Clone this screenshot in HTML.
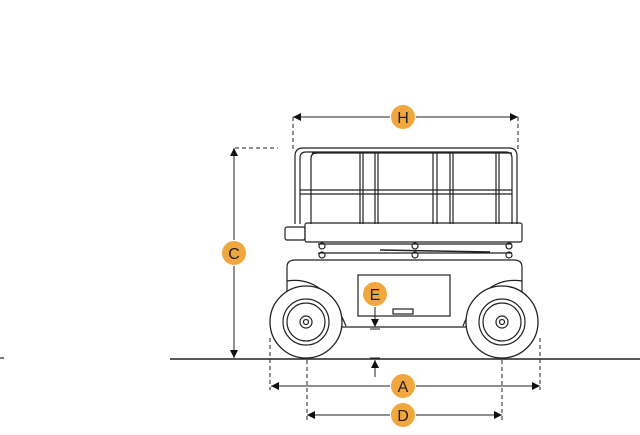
<!DOCTYPE html>
<html><head><style>
html,body{margin:0;padding:0;background:#fff;width:640px;height:435px;overflow:hidden}
</style></head><body>
<svg width="640" height="435" viewBox="0 0 640 435" xmlns="http://www.w3.org/2000/svg">
<defs>
<marker id="ar" viewBox="0 0 10 10" refX="10" refY="5" markerWidth="10" markerHeight="8" orient="auto-start-reverse" markerUnits="userSpaceOnUse"><path d="M0,0 L10,5 L0,10 z" fill="#111"/></marker>
</defs>
<g stroke="#222" fill="none" stroke-width="1.2">
<line x1="170" y1="359" x2="640" y2="359" stroke-width="1.4"/>
<line x1="0" y1="358" x2="4" y2="358"/>
<g stroke-dasharray="4,3" stroke-width="1">
<line x1="293" y1="117" x2="293" y2="150"/>
<line x1="518" y1="117" x2="518" y2="150"/>
<line x1="235" y1="148" x2="278" y2="148"/>
<line x1="270" y1="338" x2="270" y2="390"/>
<line x1="540" y1="338" x2="540" y2="390"/>
<line x1="307" y1="360" x2="307" y2="420"/>
<line x1="502" y1="360" x2="502" y2="420"/>
</g>
<g stroke-width="1">
<line x1="293" y1="117" x2="390" y2="117" marker-start="url(#ar)"/>
<line x1="416" y1="117" x2="518" y2="117" marker-end="url(#ar)"/>
<line x1="234" y1="148" x2="234" y2="240" marker-start="url(#ar)"/>
<line x1="234" y1="266" x2="234" y2="358" marker-end="url(#ar)"/>
<line x1="271" y1="386" x2="390" y2="386" marker-start="url(#ar)"/>
<line x1="416" y1="386" x2="540" y2="386" marker-end="url(#ar)"/>
<line x1="307" y1="415" x2="390" y2="415" marker-start="url(#ar)"/>
<line x1="416" y1="415" x2="502" y2="415" marker-end="url(#ar)"/>
<line x1="375" y1="307" x2="375" y2="327" marker-end="url(#ar)"/>
<line x1="375" y1="377" x2="375" y2="360" marker-end="url(#ar)"/>
<line x1="370" y1="329" x2="380" y2="329"/>
<line x1="370" y1="358" x2="380" y2="358"/>
</g>
<path d="M295,224 V156 Q295,148 303,148 H509 Q517,148 517,156 V224"/>
<path d="M300,224 V158 Q300,152 306,152 H506 Q512,152 512,158 V224"/>
<path d="M311,224 V158 Q311,153 317,153"/>
<line x1="312" y1="153" x2="512" y2="153"/>
<line x1="300" y1="190" x2="512" y2="190"/>
<line x1="300" y1="194" x2="512" y2="194"/>
<line x1="360" y1="153" x2="360" y2="224"/><line x1="363" y1="153" x2="363" y2="224"/>
<line x1="375" y1="153" x2="375" y2="224"/><line x1="378" y1="153" x2="378" y2="224"/>
<line x1="433" y1="153" x2="433" y2="224"/><line x1="437" y1="153" x2="437" y2="224"/>
<line x1="450" y1="153" x2="450" y2="224"/><line x1="453" y1="153" x2="453" y2="224"/>
<line x1="496" y1="153" x2="496" y2="224"/><line x1="499" y1="153" x2="499" y2="224"/>
<rect x="305" y="223" width="217" height="19" rx="2"/>
<rect x="285" y="227" width="20" height="13" rx="2"/>
<line x1="318" y1="244" x2="512" y2="244"/>
<line x1="318" y1="253" x2="512" y2="253"/>
<line x1="380" y1="250" x2="490" y2="252" stroke-width="1.5"/>
<circle cx="322" cy="246" r="3"/><circle cx="322" cy="255" r="3"/>
<circle cx="415" cy="246" r="3"/><circle cx="415" cy="255" r="3"/>
<circle cx="509" cy="246" r="3"/><circle cx="509" cy="255" r="3"/>
<path d="M287,325 V267 Q287,260 295,260 H514 Q522,260 522,267 V325"/>
<line x1="287" y1="327" x2="522" y2="327"/>
<rect x="358" y="275" width="92" height="41"/>
<rect x="393" y="309" width="20" height="5"/>
<path d="M287,281 Q325,275 346,326"/>
<path d="M522,281 Q484,275 463,326"/>
<g fill="#fff">
<circle cx="306" cy="322" r="36" stroke-width="1.3"/>
<circle cx="306" cy="322" r="23"/>
<circle cx="306" cy="322" r="19"/>
<circle cx="306" cy="322" r="6"/>
<circle cx="306" cy="322" r="2.5"/>
<circle cx="502" cy="322" r="36" stroke-width="1.3"/>
<circle cx="502" cy="322" r="23"/>
<circle cx="502" cy="322" r="19"/>
<circle cx="502" cy="322" r="6"/>
<circle cx="502" cy="322" r="2.5"/>
</g>
</g>
<g fill="#f2a63e" font-family="Liberation Sans, sans-serif" font-size="16" text-anchor="middle">
<circle cx="403" cy="117" r="12"/><circle cx="234" cy="253" r="12"/>
<circle cx="375" cy="294" r="12"/><circle cx="403" cy="386" r="12"/><circle cx="403" cy="415" r="12"/>
<g fill="#222">
<text x="403" y="123">H</text><text x="234" y="259">C</text>
<text x="375" y="300">E</text><text x="403" y="392">A</text><text x="403" y="421">D</text>
</g>
</g>
</svg>
</body></html>
